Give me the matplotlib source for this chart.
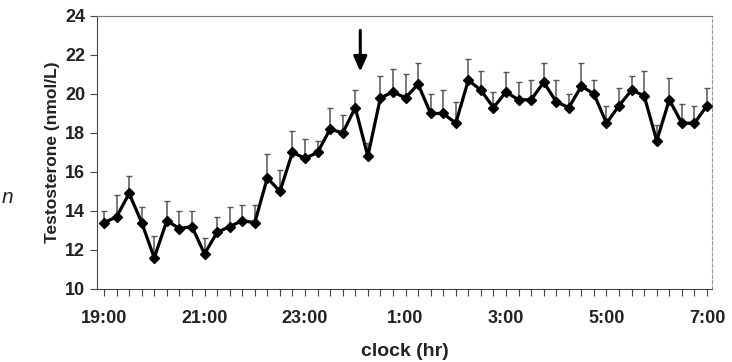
import numpy as np
import matplotlib.pyplot as plt
from matplotlib.ticker import MultipleLocator

plt.rcParams['font.family'] = ['Liberation Sans', 'DejaVu Sans']

# hours after 19:00, every 15 min
hours = np.arange(49) * 0.25
testo = [13.4, 13.7, 14.9, 13.4, 11.6, 13.5, 13.1, 13.2, 11.8, 12.9,
         13.2, 13.5, 13.4, 15.7, 15.0, 17.0, 16.7, 17.0, 18.2, 18.0,
         19.3, 16.8, 19.8, 20.1, 19.8, 20.5, 19.0, 19.0, 18.5, 20.7,
         20.2, 19.3, 20.1, 19.7, 19.7, 20.6, 19.6, 19.3, 20.4, 20.0,
         18.5, 19.4, 20.2, 19.9, 17.6, 19.7, 18.5, 18.5, 19.4]
err_top = [14.0, 14.8, 15.8, 14.2, 12.7, 14.5, 14.0, 14.0, 12.6, 13.7,
           14.2, 14.3, 14.3, 16.9, 16.1, 18.1, 17.7, 17.6, 19.3, 18.9,
           20.2, 17.5, 20.9, 21.3, 21.0, 21.6, 20.0, 20.2, 19.6, 21.8,
           21.2, 20.1, 21.1, 20.6, 20.7, 21.6, 20.7, 20.0, 21.6, 20.7,
           19.4, 20.3, 20.9, 21.2, 18.4, 20.8, 19.5, 19.4, 20.3]
tick_labels = ["19:00", "21:00", "23:00", "1:00", "3:00", "5:00", "7:00"]

testo = np.array(testo)
upper = np.array(err_top) - testo
lower = np.zeros_like(upper)

fig = plt.figure(figsize=(7.32, 3.62), dpi=100)
ax = fig.add_axes([0.1325, 0.2017, 0.8402, 0.7543])

ax.errorbar(hours, testo, yerr=[lower, upper], fmt='none', ecolor='#555555',
            elinewidth=1.1, capsize=2.5, capthick=1.0, zorder=2)
ax.plot(hours, testo, color='black', lw=2.3, marker='D', ms=5.5, zorder=3)

# arrow marking the event just after midnight
ax.annotate("", xy=(5.1, 21.0), xytext=(5.1, 23.4),
            arrowprops=dict(arrowstyle='-|>,head_width=0.4,head_length=0.9',
                            color='black', lw=2.2))

ax.set_xlim(-0.14, 12.1)
ax.set_ylim(10, 24)
ax.set_xticks(np.arange(0, 13, 2))
ax.set_xticklabels(tick_labels)
ax.xaxis.set_minor_locator(MultipleLocator(0.25))
ax.set_yticks(np.arange(10, 25, 2))

ax.tick_params(axis='both', which='both', direction='out', length=5,
               width=0.8, color='#444444', labelsize=13)
ax.tick_params(axis='x', which='major', pad=10)
for lab in ax.get_xticklabels() + ax.get_yticklabels():
    lab.set_fontweight('bold')
    lab.set_color('#222222')

ax.set_xlabel("clock (hr)", fontsize=14, fontweight='bold', color='#222222', labelpad=12)
ax.set_ylabel("Testosterone (nmol/L)", fontsize=12.5, fontweight='bold', color='#222222', labelpad=4)

ax.spines['left'].set_color('#444444')
ax.spines['bottom'].set_color('#444444')
ax.spines['top'].set_color('#777777')
ax.spines['right'].set_color('#999999')
ax.spines['right'].set_linestyle((0, (3, 2)))

# stray glyph cut off at the left edge of the page
fig.text(0.002, 0.44, "n", fontsize=15, style='italic', color='#222222')

fig.savefig("out.png", dpi=100)
